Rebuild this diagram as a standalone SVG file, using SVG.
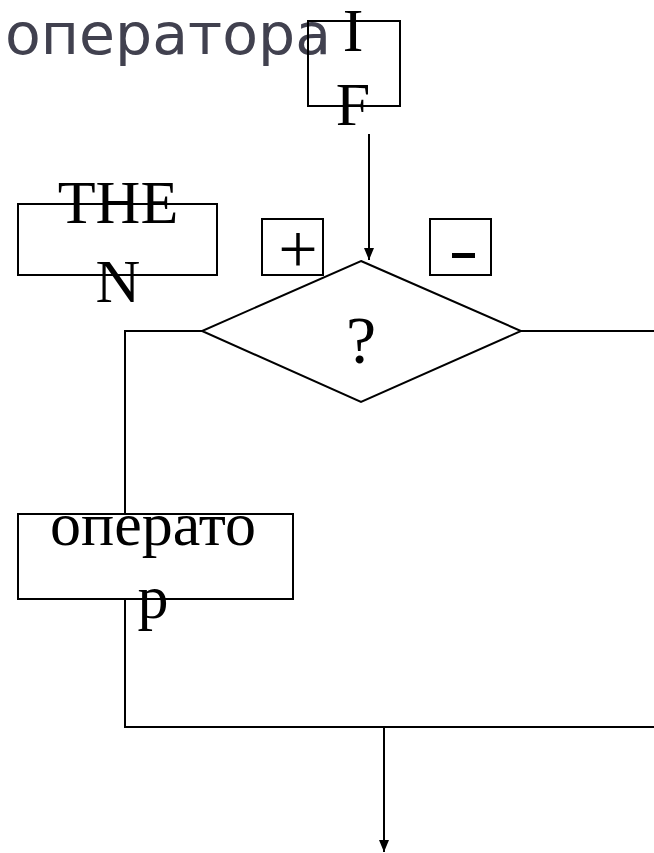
<svg xmlns="http://www.w3.org/2000/svg" width="654" height="853" viewBox="0 0 654 853">
<style>
.box{fill:none;stroke:#000;stroke-width:2}
.ln{fill:none;stroke:#000;stroke-width:2}
.t{font-family:"Liberation Serif","Times New Roman",serif;font-size:62px;fill:#000;text-anchor:middle}
.title{font-family:"DejaVu Sans","Verdana",sans-serif;font-size:57px;fill:#41414f}
</style>
<defs>
<marker id="ah" viewBox="0 0 12 10" refX="12" refY="5" markerWidth="12" markerHeight="10" markerUnits="userSpaceOnUse" orient="auto" preserveAspectRatio="none">
<path d="M0,0 L12,5 L0,10 Z" fill="#000"/>
</marker>
</defs>
<rect width="654" height="853" fill="#fff"/>
<text class="title" x="5" y="54" textLength="326" lengthAdjust="spacingAndGlyphs">оператора</text>
<g id="connectors">
<line class="ln" x1="369" y1="134" x2="369" y2="260" marker-end="url(#ah)"/>
<polyline class="ln" points="202,331 125,331 125,515"/>
<line class="ln" x1="521" y1="331" x2="654" y2="331"/>
<polyline class="ln" points="125,599 125,727 654,727"/>
<line class="ln" x1="384" y1="727" x2="384" y2="852" marker-end="url(#ah)"/>
</g>
<g id="if">
<rect class="box" x="308" y="21" width="92" height="85"/>
<text class="t" x="353" y="51">I</text>
<text class="t" x="353" y="125">F</text>
</g>
<g id="then">
<rect class="box" x="18" y="204" width="199" height="71"/>
<text class="t" x="118" y="223">THE</text>
<text class="t" x="118" y="302">N</text>
</g>
<g id="plus">
<rect class="box" x="262" y="219" width="61" height="56"/>
<text class="t" x="298" y="273" style="font-size:70px">+</text>
</g>
<g id="minus">
<rect class="box" x="430" y="219" width="61" height="56"/>
<rect x="452" y="253" width="23" height="5" fill="#000"/>
</g>
<g id="decision">
<polygon class="box" points="361,261 521,331 361,402 202,331"/>
<text class="t" x="361" y="363" style="font-size:68px">?</text>
</g>
<g id="operator">
<rect class="box" x="18" y="514" width="275" height="85"/>
<text class="t" x="153" y="545">операто</text>
<text class="t" x="153" y="618">р</text>
</g>
</svg>
